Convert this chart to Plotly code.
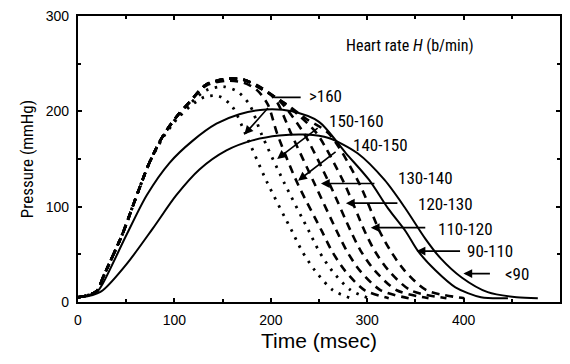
import plotly.graph_objects as go

# ---- data: aortic pressure waveforms by heart-rate group (time msec, pressure mmHg)
t_gt160 = [0, 10, 20, 26, 46, 61, 74, 88, 102, 116, 131, 146, 160, 173.6, 196.3, 222.1, 232.4, 245.9, 264.5, 283.1]
p_gt160 = [5, 7, 12, 26, 71, 112, 146, 172, 191, 205, 215, 216, 205, 176.6, 125.3, 74, 53.4, 32.9, 12.3, 4]

t_150_160 = [0, 10, 20, 26, 46, 61, 74, 88, 102, 116, 133, 150, 165, 178, 190.1, 213.8, 239.7, 250, 263.4, 283.1, 301.7]
p_150_160 = [5, 7, 12, 26, 71, 112, 146, 173, 193, 208, 222, 226, 221, 207, 176.6, 125.3, 74, 53.4, 32.9, 12.3, 4]

t_140_150 = [0, 10, 20, 26, 46, 61, 74, 88, 102, 116, 133, 154, 172, 186, 197, 206.6, 227.3, 253.1, 263.4, 276.9, 297.5, 322.3]
p_140_150 = [5, 7, 12, 26, 71, 112, 146, 174, 194, 210, 227, 232, 230, 222, 207, 176.6, 125.3, 74, 53.4, 32.9, 12.3, 4]

t_130_140 = [0, 10, 20, 26, 46, 61, 74, 88, 102, 116, 133, 154, 172, 190, 205, 221.1, 244.8, 268.6, 278.9, 292.4, 314, 343]
p_130_140 = [5, 7, 12, 26, 71, 112, 146, 174, 194, 210, 228, 234, 233, 225, 212, 176.6, 125.3, 74, 53.4, 32.9, 12.3, 4]

t_120_130 = [0, 10, 20, 26, 46, 61, 74, 88, 102, 116, 133, 154, 172, 191, 210, 234.5, 260.3, 283.1, 293.4, 307.9, 330.6, 363.6]
p_120_130 = [5, 7, 12, 26, 71, 112, 146, 174, 194, 210, 228, 234, 233, 224, 210, 176.6, 125.3, 74, 53.4, 32.9, 12.3, 4]

t_110_120 = [0, 10, 20, 26, 46, 61, 74, 88, 102, 116, 133, 154, 172, 191, 212, 230, 247.9, 275.8, 297.5, 307.9, 322.3, 345, 382.2]
p_110_120 = [5, 7, 12, 26, 71, 112, 146, 174, 194, 210, 228, 234, 233, 223, 210, 195, 176.6, 125.3, 74, 53.4, 32.9, 12.3, 4]

t_110_120b = [0, 10, 20, 26, 46, 61, 74, 88, 102, 116, 133, 154, 172, 191, 216, 237, 260.3, 291.3, 313, 324.4, 338.8, 361.6, 400.8]
p_110_120b = [5, 7, 12, 26, 71, 112, 146, 174, 194, 210, 228, 234, 233, 223, 207.5, 192, 176.6, 125.3, 74, 53.4, 32.9, 12.3, 4]

t_90_110 = [0, 10, 20, 25.8, 50.6, 71.3, 95, 118.8, 143.6, 167.4, 195, 222, 250, 278, 302, 322, 340, 353, 371, 391.5, 418, 446]
p_90_110 = [5, 7, 11, 19.5, 71, 112, 146, 169, 187, 197, 202, 200, 189, 156, 128, 97.6, 74, 53, 33, 15.4, 5, 4]

t_lt90 = [0, 10, 20, 25.8, 50.6, 77.5, 102, 126, 154, 181, 208.7, 236.6, 260, 290, 318, 340, 360, 376, 398, 425, 455, 477]
p_lt90 = [5, 6, 9, 12.3, 40, 77, 112, 139, 159, 169.5, 174.6, 175.6, 172, 156, 128, 97.6, 66.8, 46, 25.7, 10.3, 5, 4]

labels = [">160", "150-160", "140-150", "130-140", "120-130", "110-120", "90-110", "<90"]
x_ticks = [0, 100, 200, 300, 400, 500]
y_ticks = [0, 100, 200, 300]

DOT = "2.5px,6.5px"
DASH = "8px,6px"
curves = [
    (t_gt160, p_gt160, ">160", DOT, 2.8),
    (t_150_160, p_150_160, "150-160", DOT, 2.8),
    (t_140_150, p_140_150, "140-150", DASH, 2.6),
    (t_130_140, p_130_140, "130-140", DASH, 2.6),
    (t_120_130, p_120_130, "120-130", DASH, 2.6),
    (t_110_120, p_110_120, "110-120", DASH, 2.6),
    (t_110_120b, p_110_120b, "110-120 b", DASH, 2.6),
    (t_90_110, p_90_110, "90-110", "solid", 2.0),
    (t_lt90, p_lt90, "<90", "solid", 2.0),
]

fig = go.Figure()
for t, p, name, dash, w in curves:
    fig.add_trace(go.Scatter(x=t, y=p, mode="lines", name=name,
                             line=dict(color="black", width=w, dash=dash,
                                       shape="spline", smoothing=0.8),
                             showlegend=False, hoverinfo="skip"))

NARROW = "Liberation Sans Narrow, Arial Narrow, Roboto Condensed, DejaVu Sans Condensed, sans-serif"

# label anchors (left edge, centre) and arrows (tip, tail offset in px)
label_pos = [(237.6, 215.7), (258.3, 190), (283, 164.3), (329.5, 130.4),
             (350.2, 102.7), (370.9, 77), (401.9, 53.4), (441.1, 29.8)]
arrow_tips = [(172.5, 175.6), (206.6, 150.1), (228.3, 127.3), (252, 124.3),
              (277.9, 103.7), (303.7, 78), (351.2, 53.4), (399.8, 29.8)]
arrow_tails = [(25, -28), (42, -32), (39, -30), (55, 0), (53, 0), (56, 0), (45, 0), (28, 0)]

ann = []
for lab, (lx, ly) in zip(labels, label_pos):
    ann.append(dict(x=lx, y=ly, text=lab, showarrow=False, xanchor="left", yanchor="middle",
                    font=dict(family=NARROW, size=17, color="black")))
for (tx, ty), (ax, ay) in zip(arrow_tips, arrow_tails):
    ann.append(dict(x=tx, y=ty, ax=ax, ay=ay, text="", showarrow=True, arrowhead=2,
                    arrowsize=1.1, arrowwidth=1.6, arrowcolor="black"))
ann.append(dict(x=203.5, y=214.6, ax=28, ay=0, text="", showarrow=True, arrowhead=0,
                arrowwidth=1.6, arrowcolor="black"))
ann.append(dict(x=275.8, y=269, text="Heart rate <i>H</i> (b/min)", showarrow=False,
                xanchor="left", yanchor="middle",
                font=dict(family=NARROW, size=16, color="black")))

axis_common = dict(showline=True, linewidth=2.2, linecolor="black", mirror="allticks",
                   ticks="inside", ticklen=4, tickwidth=1.5, tickcolor="black",
                   showgrid=False, zeroline=False,
                   tickfont=dict(family="Liberation Sans, Arial, sans-serif", size=14, color="black"))

fig.update_layout(
    width=570, height=364,
    margin=dict(l=78, r=8, t=10, b=62),
    paper_bgcolor="white", plot_bgcolor="white",
    xaxis=dict(range=[0, 500], tickvals=x_ticks, ticklabelstandoff=4,
               minor=dict(ticks="inside", ticklen=3, dtick=50, tickcolor="black"),
               title=dict(text="Time (msec)", standoff=6,
                          font=dict(family="Liberation Sans, Arial, sans-serif", size=21, color="black")),
               **axis_common),
    yaxis=dict(range=[0, 300], tickvals=y_ticks, ticklabelstandoff=4,
               minor=dict(ticks="inside", ticklen=3, dtick=50, tickcolor="black"),
               title=dict(text="Pressure (mmHg)", standoff=8,
                          font=dict(family=NARROW, size=17, color="black")),
               **axis_common),
    annotations=ann,
)

fig.write_html("out.html")
